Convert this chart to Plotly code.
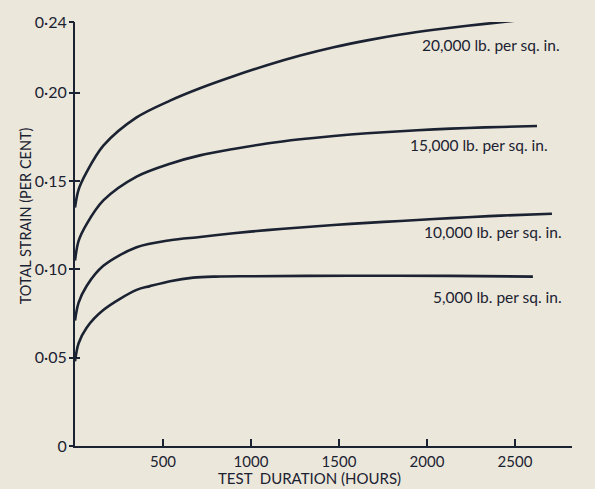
import plotly.graph_objects as go

# Creep test curves: total strain (per cent) against test duration (hours)
hours_20k = [0, 20, 66, 161, 350, 540, 710, 900, 1090, 1280, 1470, 1660, 1850, 2040, 2230, 2420, 2540]
strain_20k = [0.135, 0.145, 0.155, 0.170, 0.186, 0.1955, 0.2025, 0.2093, 0.2155, 0.2210,
              0.2257, 0.2296, 0.2329, 0.2356, 0.2379, 0.2399, 0.2412]

hours_15k = [0, 20, 66, 161, 350, 540, 710, 900, 1090, 1280, 1470, 1660, 1850, 2040, 2230, 2420, 2625]
strain_15k = [0.105, 0.116, 0.1256, 0.139, 0.1525, 0.1598, 0.1645, 0.1681, 0.1712, 0.1736,
              0.1755, 0.1770, 0.1782, 0.1792, 0.1800, 0.1806, 0.1811]

hours_10k = [0, 20, 66, 161, 350, 540, 710, 900, 1090, 1280, 1470, 1660, 1850, 2040, 2230, 2420, 2710]
strain_10k = [0.071, 0.081, 0.0906, 0.102, 0.1125, 0.1165, 0.1183, 0.1204, 0.1222, 0.1237,
              0.1251, 0.1263, 0.1274, 0.1285, 0.1295, 0.1304, 0.1315]

hours_5k = [0, 20, 66, 161, 350, 426, 540, 672, 800, 1000, 1560, 2130, 2602]
strain_5k = [0.048, 0.058, 0.067, 0.077, 0.0884, 0.0905, 0.0933, 0.0953, 0.0959, 0.0961,
             0.0964, 0.0963, 0.0959]

curve_labels = ["20,000 lb. per sq. in.", "15,000 lb. per sq. in.",
                "10,000 lb. per sq. in.", "5,000 lb. per sq. in."]
label_x = [2364, 2295, 2375, 2398]
label_y = [0.227, 0.1706, 0.121, 0.0844]

y_tickvals = [0, 0.05, 0.10, 0.15, 0.20, 0.24]
y_ticktext = ["0", "0·05", "0·10", "0·15", "0·20", "0·24"]
x_tickvals = [500, 1000, 1500, 2000, 2500]
x_ticktext = ["500", "1000", "1500", "2000", "2500"]

INK = "#1b2232"
PAPER = "#ebe7da"
FONT = "Lato"

fig = go.Figure()
for xs, ys in [(hours_20k, strain_20k), (hours_15k, strain_15k),
               (hours_10k, strain_10k), (hours_5k, strain_5k)]:
    fig.add_trace(go.Scatter(
        x=xs, y=ys, mode="lines",
        line=dict(color=INK, width=2.6, shape="spline", smoothing=0.9),
        showlegend=False, hoverinfo="skip"))

# invisible traces that carry the two halves of the y tick marks
for ax in ("y2", "y3"):
    fig.add_trace(go.Scatter(x=[0], y=[0], yaxis=ax, mode="markers",
                             marker=dict(opacity=0), showlegend=False, hoverinfo="skip"))

for text, lx, ly in zip(curve_labels, label_x, label_y):
    fig.add_annotation(x=lx, y=ly, text=text, showarrow=False,
                       xanchor="center", yanchor="middle",
                       font=dict(family=FONT, size=15.5, color=INK))

fig.add_annotation(xref="paper", yref="paper", x=(309 - 75) / 497, y=(446 - 479) / 432,
                   text="TEST  DURATION (HOURS)", showarrow=False,
                   xanchor="center", yanchor="middle",
                   font=dict(family=FONT, size=15, color=INK))
fig.add_annotation(xref="paper", yref="paper", x=(25 - 75) / 497, y=(446 - 212) / 432,
                   text="TOTAL STRAIN (PER CENT)", showarrow=False, textangle=-90,
                   xanchor="center", yanchor="middle",
                   font=dict(family=FONT, size=14.5, color=INK))

tick_common = dict(range=[0, 0.24], tickvals=y_tickvals, showgrid=False, zeroline=False,
                   showline=False, showticklabels=False, ticklen=5, tickwidth=1.5,
                   tickcolor=INK, overlaying="y", side="left")

fig.update_layout(
    width=595, height=489,
    margin=dict(l=75, r=23, t=14, b=43),
    paper_bgcolor=PAPER, plot_bgcolor=PAPER,
    font=dict(family=FONT, size=14, color=INK),
    xaxis=dict(range=[0, 2824], tickvals=x_tickvals, ticktext=x_ticktext,
               ticks="inside", ticklen=7, tickwidth=1.5, tickcolor=INK,
               showline=True, linecolor=INK, linewidth=2, showgrid=False,
               zeroline=False, ticklabelstandoff=1,
               tickfont=dict(family=FONT, size=15, color=INK)),
    yaxis=dict(range=[0, 0.24], tickvals=y_tickvals, ticktext=y_ticktext,
               ticks="", showline=True, linecolor=INK, linewidth=2, showgrid=False,
               zeroline=False, ticklabelstandoff=3,
               tickfont=dict(family=FONT, size=16, color=INK)),
    yaxis2=dict(ticks="inside", **tick_common),
    yaxis3=dict(ticks="outside", **tick_common),
)

fig.write_html("out.html")
